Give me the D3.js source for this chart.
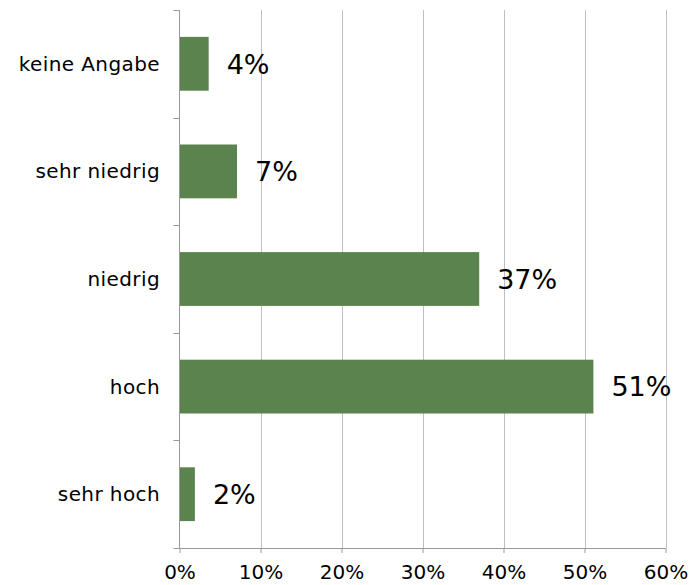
<!DOCTYPE html>
<html>
<head>
<meta charset="utf-8">
<script src="https://cdn.jsdelivr.net/npm/d3@7"></script>
<style>
  html, body { margin: 0; padding: 0; background: #fff; }
  svg { display: block; font-family: "DejaVu Sans", Verdana, sans-serif; }
</style>
</head>
<body>
<svg id="chart" width="691" height="585"></svg>
<script>
// Answer categories, top to bottom
const categories = ["keine Angabe", "sehr niedrig", "niedrig", "hoch", "sehr hoch"];
// Share of responses (fraction)
const shares = [0.036, 0.071, 0.37, 0.511, 0.019];
// Axis ticks
const tickValues = [0, 0.1, 0.2, 0.3, 0.4, 0.5, 0.6];

const svg = d3.select("#chart");
const plotLeft = 179.5, plotRight = 665.5, plotTop = 10, plotBottom = 548;

const x = d3.scaleLinear().domain([0, 0.6]).range([plotLeft, plotRight]);
const y = d3.scaleBand().domain(categories).range([plotTop, plotBottom]).paddingInner(0.5).paddingOuter(0.25);

const pct = d3.format(".0%");

// vertical gridlines
svg.append("g")
  .selectAll("line")
  .data(tickValues.slice(1))
  .join("line")
  .attr("x1", d => Math.round(x(d)) + 0.5)
  .attr("x2", d => Math.round(x(d)) + 0.5)
  .attr("y1", plotTop)
  .attr("y2", plotBottom)
  .attr("stroke", "#bfbfbf")
  .attr("stroke-width", 1);

// bars
svg.append("g")
  .selectAll("rect")
  .data(categories)
  .join("rect")
  .attr("x", x(0))
  .attr("y", d => y(d))
  .attr("width", (d, i) => x(shares[i]) - x(0))
  .attr("height", y.bandwidth())
  .attr("fill", "#5b834e");

// value labels
svg.append("g")
  .selectAll("text")
  .data(categories)
  .join("text")
  .attr("x", (d, i) => x(shares[i]) + 18)
  .attr("y", d => y(d) + y.bandwidth() / 2)
  .attr("dy", "0.36em")
  .attr("font-size", 27)
  .attr("fill", "#000")
  .text((d, i) => pct(shares[i]));

// x axis
const xAxis = d3.axisBottom(x).tickValues(tickValues).tickFormat(pct).tickSize(5).tickPadding(12);
const gx = svg.append("g").attr("transform", `translate(0,${plotBottom})`).call(xAxis);
gx.select(".domain").attr("stroke", "#999").attr("d", `M${plotLeft},0.5H${plotRight}`);
gx.selectAll(".tick line").attr("stroke", "#999");
gx.selectAll(".tick text").attr("font-size", 20).attr("fill", "#000")
  .attr("font-family", "'DejaVu Sans', Verdana, sans-serif");

// y axis with ticks at band boundaries
const bandEdges = d3.range(categories.length + 1).map(i => plotTop + i * (plotBottom - plotTop) / categories.length);
const gy = svg.append("g");
gy.append("line")
  .attr("x1", plotLeft).attr("x2", plotLeft)
  .attr("y1", plotTop).attr("y2", plotBottom)
  .attr("stroke", "#999");
gy.selectAll("line.edge")
  .data(bandEdges)
  .join("line")
  .attr("class", "edge")
  .attr("x1", plotLeft - 6).attr("x2", plotLeft)
  .attr("y1", d => Math.round(d) + 0.5).attr("y2", d => Math.round(d) + 0.5)
  .attr("stroke", "#999");
gy.selectAll("text")
  .data(categories)
  .join("text")
  .attr("x", 160)
  .attr("y", d => y(d) + y.bandwidth() / 2)
  .attr("dy", "0.35em")
  .attr("text-anchor", "end")
  .attr("font-size", 20)
  .attr("letter-spacing", 0.4)
  .attr("fill", "#000")
  .text(d => d);
</script>
</body>
</html>
